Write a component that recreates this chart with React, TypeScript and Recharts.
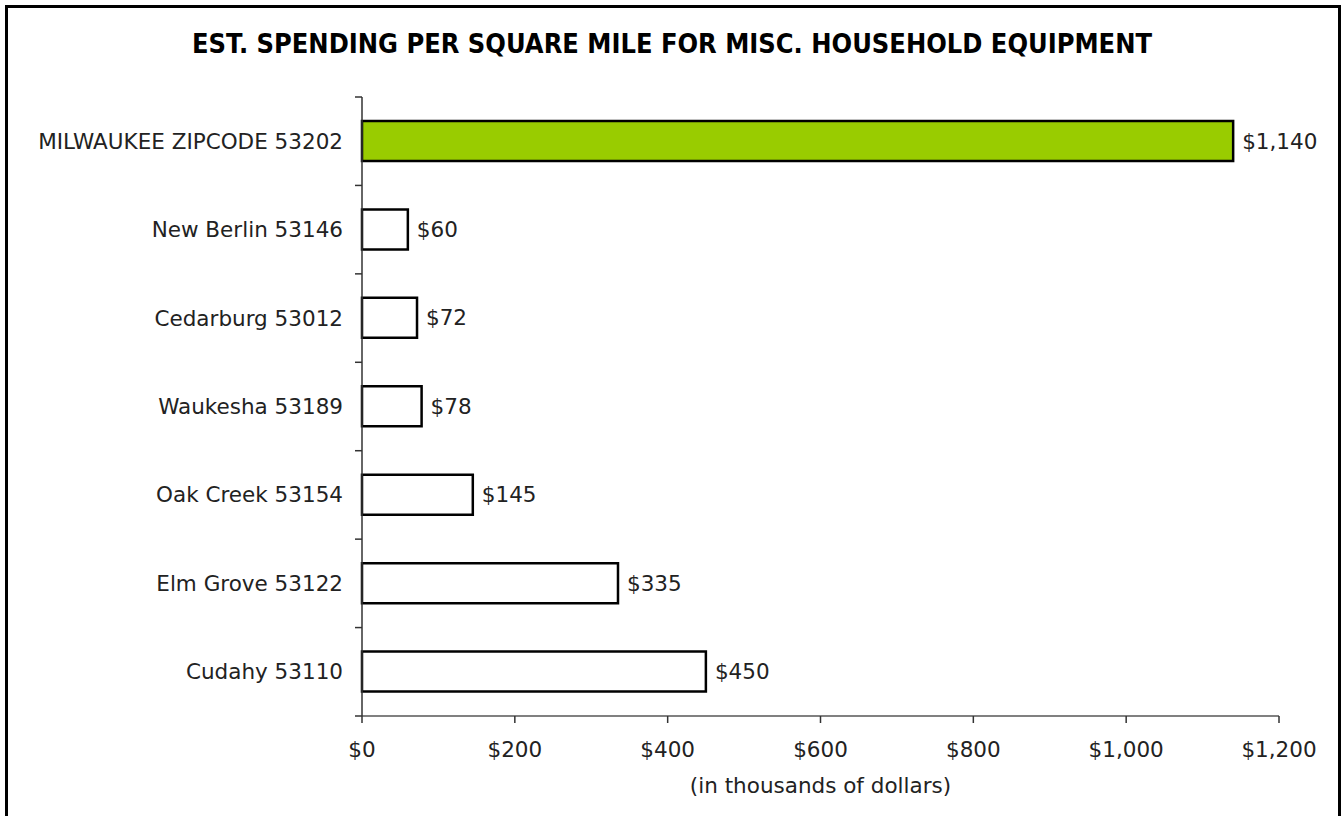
import { BarChart, Bar, XAxis, YAxis, Cell, LabelList } from "recharts"

const categories = [
  "MILWAUKEE ZIPCODE 53202",
  "New Berlin 53146",
  "Cedarburg 53012",
  "Waukesha 53189",
  "Oak Creek 53154",
  "Elm Grove 53122",
  "Cudahy 53110",
]
const spending = [1140, 60, 72, 78, 145, 335, 450]
const xTicks = [0, 200, 400, 600, 800, 1000, 1200]
const highlighted = "MILWAUKEE ZIPCODE 53202"
const title = "EST. SPENDING PER SQUARE MILE FOR MISC. HOUSEHOLD EQUIPMENT"
const xLabel = "(in thousands of dollars)"

const W = 1343
const H = 816
const PLOT_LEFT = 362
const PLOT_TOP = 97
const PLOT_BOTTOM = 716
const BAND = (PLOT_BOTTOM - PLOT_TOP) / categories.length
const FONT = "'DejaVu Sans', Verdana, sans-serif"
const FONT_SIZE = 21.5
const TEXT = "#222"

const money = (v: number) => `$${v.toLocaleString("en-US")}`

function CategoryTick(props: any) {
  const { y, payload, index } = props
  const top = y - BAND / 2
  const bottom = y + BAND / 2
  return (
    <g>
      <line x1={PLOT_LEFT - 7} x2={PLOT_LEFT} y1={top} y2={top} stroke="#333" strokeWidth={1.5} />
      {index === categories.length - 1 && (
        <line x1={PLOT_LEFT - 7} x2={PLOT_LEFT} y1={bottom} y2={bottom} stroke="#333" strokeWidth={1.5} />
      )}
      <text
        x={PLOT_LEFT - 19}
        y={y}
        textAnchor="end"
        dominantBaseline="central"
        fontSize={FONT_SIZE}
        fontFamily={FONT}
        fill={TEXT}
      >
        {payload.value}
      </text>
    </g>
  )
}

export default function App() {
  const data = categories.map((name, i) => ({ name, value: spending[i] }))

  return (
    <div style={{ position: "absolute", left: 0, top: 0, width: W, height: H, overflow: "hidden", background: "#fff" }}>
      <div
        style={{
          position: "absolute",
          left: 5,
          top: 5,
          width: 1336,
          height: 840,
          boxSizing: "border-box",
          border: "3px solid #000",
        }}
      />
      <svg width={W} height={70} style={{ position: "absolute", left: 0, top: 0 }}>
        <text
          x={672}
          y={53}
          textAnchor="middle"
          fontSize={27}
          fontWeight="bold"
          fontFamily={FONT}
          fill="#000"
          textLength={960}
          lengthAdjust="spacingAndGlyphs"
        >
          {title}
        </text>
      </svg>
      <div style={{ position: "absolute", left: 0, top: 0 }}>
        <BarChart
          width={W}
          height={H}
          data={data}
          layout="vertical"
          margin={{ top: PLOT_TOP, right: 64, bottom: 0, left: 0 }}
        >
          <XAxis
            type="number"
            domain={[0, 1200]}
            ticks={xTicks}
            tickFormatter={money}
            height={H - PLOT_BOTTOM}
            axisLine={{ stroke: "#808080", strokeWidth: 2 }}
            tickLine={{ stroke: "#333", strokeWidth: 1.5 }}
            tickSize={7}
            tickMargin={19}
            tick={{ fill: TEXT, fontSize: FONT_SIZE, fontFamily: FONT }}
            label={{ value: xLabel, position: "insideBottom", offset: 23, fill: TEXT, fontSize: FONT_SIZE, fontFamily: FONT }}
          />
          <YAxis
            type="category"
            dataKey="name"
            width={PLOT_LEFT}
            axisLine={{ stroke: "#333", strokeWidth: 1.5 }}
            tickLine={false}
            tick={<CategoryTick />}
            interval={0}
          />
          <Bar dataKey="value" barSize={40} stroke="#000" strokeWidth={2.5} isAnimationActive={false}>
            {data.map((d) => (
              <Cell key={d.name} fill={d.name === highlighted ? "#99CC00" : "#ffffff"} />
            ))}
            <LabelList
              dataKey="value"
              position="right"
              offset={9}
              formatter={(v: any) => money(Number(v))}
              fill={TEXT}
              fontSize={FONT_SIZE}
              fontFamily={FONT}
            />
          </Bar>
        </BarChart>
      </div>
    </div>
  )
}
